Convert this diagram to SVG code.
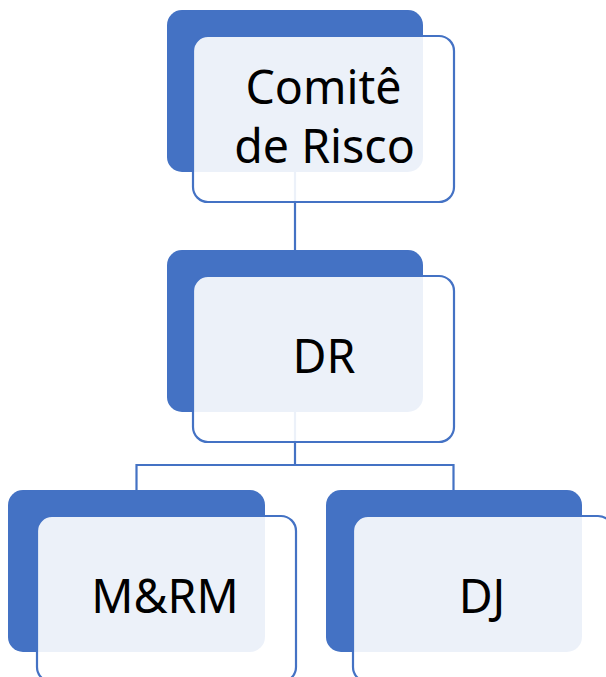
<svg xmlns="http://www.w3.org/2000/svg" width="606" height="677" viewBox="0 0 606 677">
  <style>
    .back { fill: #4472C4; }
    .front { fill: #FFFFFF; fill-opacity: 0.9; stroke: #4472C4; stroke-width: 2.2; }
    .link { fill: none; stroke: #4472C4; stroke-width: 2.2; }
    .label { font-family: "Noto Sans", "Open Sans", sans-serif; font-size: 46.5px; fill: #000000; text-anchor: middle; }
  </style>

  <!-- hierarchy links, drawn beneath the boxes -->
  <g id="connectors">
    <path class="link" d="M295 172 V250"/>
    <path class="link" d="M295 412 V465 M136.5 490 V465 H453.5 V490"/>
  </g>

  <g id="comite-de-risco">
    <rect class="back" x="167" y="10" width="256" height="162" rx="15"/>
    <rect class="front" x="193" y="36" width="261" height="166" rx="15"/>
    <text class="label" x="323.5" y="104">Comitê</text>
    <text class="label" x="324.5" y="163">de Risco</text>
  </g>

  <g id="dr">
    <rect class="back" x="167" y="250" width="256" height="162" rx="15"/>
    <rect class="front" x="193" y="276" width="261" height="166" rx="15"/>
    <text class="label" x="324" y="373">DR</text>
  </g>

  <g id="mrm">
    <rect class="back" x="8" y="490" width="257" height="162" rx="15"/>
    <rect class="front" x="37" y="516" width="259" height="166" rx="15"/>
    <text class="label" x="165" y="613">M&amp;RM</text>
  </g>

  <g id="dj">
    <rect class="back" x="326" y="490" width="256" height="162" rx="15"/>
    <rect class="front" x="353" y="516" width="260" height="166" rx="15"/>
    <text class="label" x="482" y="613">DJ</text>
  </g>
</svg>
